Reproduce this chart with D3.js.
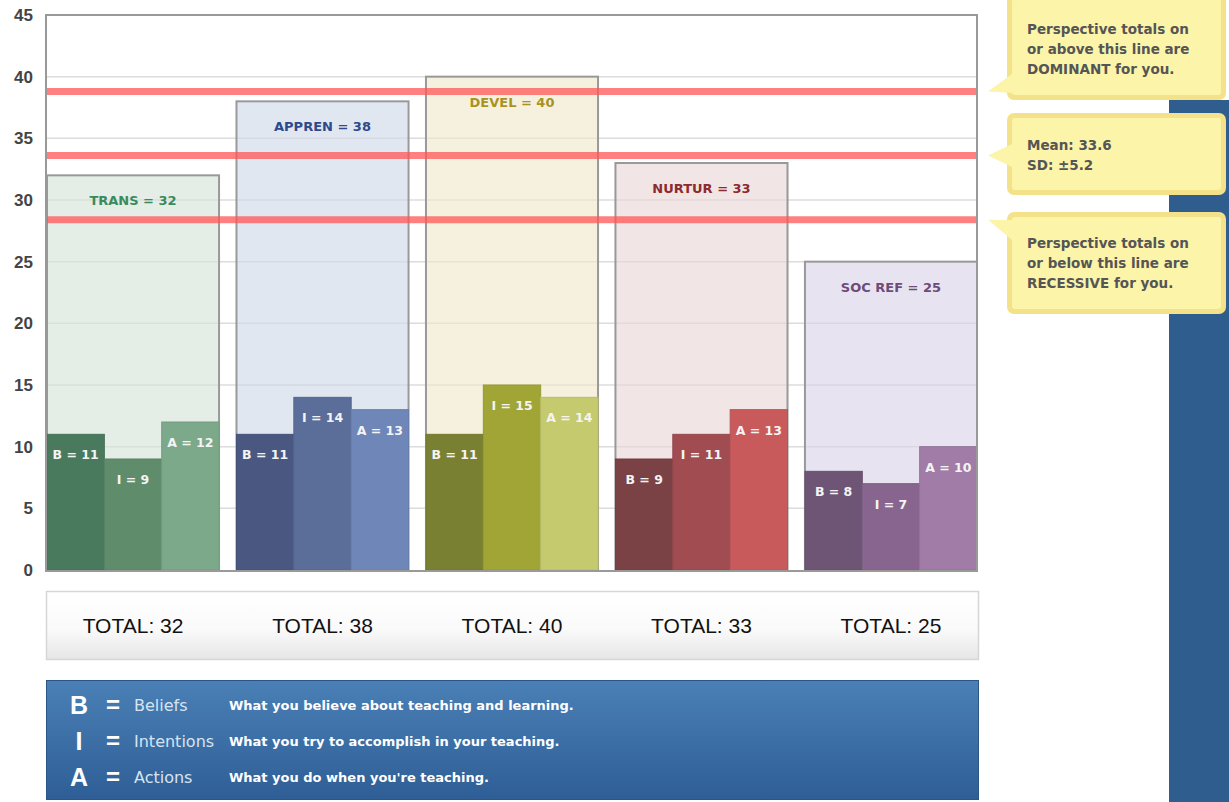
<!DOCTYPE html>
<html>
<head>
<meta charset="utf-8">
<script src="https://cdn.jsdelivr.net/npm/d3@7"></script>
<style>
  body { margin: 0; background: #fff; }
  svg { display: block; }
</style>
</head>
<body>
<div id="chart"></div>
<script>
// ── data ──────────────────────────────────────────────────────────────────
const perspectives = ['TRANS', 'APPREN', 'DEVEL', 'NURTUR', 'SOC REF'];
const beliefs = [11, 11, 11, 9, 8];
const intentions = [9, 14, 15, 11, 7];
const actions = [12, 13, 14, 13, 10];
const totals = [32, 38, 40, 33, 25];
const parts = ['B', 'I', 'A'];
const yTicks = [0, 5, 10, 15, 20, 25, 30, 35, 40, 45];
const mean = 33.6;
const sd = 5.2;

const legendKeys = ['B', 'I', 'A'];
const legendNames = ['Beliefs', 'Intentions', 'Actions'];
const legendDescs = [
  'What you believe about teaching and learning.',
  'What you try to accomplish in your teaching.',
  "What you do when you're teaching."
];
const calloutLines = [
  ['Perspective totals on', 'or above this line are', 'DOMINANT for you.'],
  ['Mean: 33.6', 'SD: \u00b15.2'],
  ['Perspective totals on', 'or below this line are', 'RECESSIVE for you.']
];

// colours per perspective
const bgColors = ['#e0eae3', '#dce3ee', '#f5eed8', '#efe0e1', '#e3deed'];
const labelColors = ['#3b8a5c', '#2e4a8c', '#a89222', '#8c2a2e', '#6e4c78'];
const partColors = [
  ['#4a7a5e', '#5f8c6b', '#7ba98a'],
  ['#4a5881', '#5b6e9a', '#6f87b8'],
  ['#7a8031', '#a0a536', '#c6ca6f'],
  ['#7b4246', '#a04c51', '#c85a5b'],
  ['#6f5575', '#87658e', '#a07ca6']
];

const W = 1229, H = 802;
const svg = d3.select('#chart').append('svg').attr('width', W).attr('height', H);
const FONT = 'Liberation Sans, Arial, sans-serif';
const BOLD = 'DejaVu Sans, Verdana, sans-serif';

const plotL = 46, plotR = 977, plotT = 15, plotB = 571;
const y = d3.scaleLinear().domain([0, 45]).range([570, 15]);
const x = d3.scaleBand().domain(perspectives).range([47, 977]).paddingInner(0.092).paddingOuter(0);
const xs = d3.scaleBand().domain(parts).range([0, x.bandwidth()]).padding(0);

// ── right side strip + callouts ───────────────────────────────────────────
svg.append('rect').attr('x', 1169).attr('y', 100).attr('width', 60).attr('height', H - 100).attr('fill', '#2f5d8e');

const calloutBoxes = [
  { y0: -6, y1: 100, tipY: mean + sd, base: [74, 93], textY: 34 },
  { y0: 113, y1: 195, tipY: mean, base: [144, 167], textY: 150 },
  { y0: 212, y1: 314, tipY: mean - sd, base: [220, 240], textY: 248 }
];
calloutBoxes.forEach((b, i) => {
  const g = svg.append('g');
  g.append('rect')
    .attr('x', 1007).attr('y', b.y0).attr('width', 219).attr('height', b.y1 - b.y0)
    .attr('rx', 7).attr('fill', '#f4e28a');
  g.append('rect')
    .attr('x', 1012).attr('y', b.y0 + 5).attr('width', 209).attr('height', b.y1 - b.y0 - 10)
    .attr('rx', 3).attr('fill', '#fbf4a9');
  g.append('path')
    .attr('d', `M1012,${b.base[0]} L988,${y(b.tipY)} L1012,${b.base[1]} Z`)
    .attr('fill', '#fbf4a9');
  calloutLines[i].forEach((t, j) => {
    g.append('text')
      .attr('x', 1027).attr('y', b.textY + j * 20)
      .attr('font-family', BOLD).attr('font-size', '13.5px').attr('font-weight', 'bold')
      .attr('fill', '#555').text(t);
  });
});

// ── grid + y axis ─────────────────────────────────────────────────────────
svg.append('rect').attr('x', plotL).attr('y', plotT).attr('width', plotR - plotL).attr('height', plotB - plotT).attr('fill', '#fff');

yTicks.forEach((t) => {
  if (t > 0 && t < 45) {
    svg.append('line')
      .attr('x1', plotL).attr('x2', plotR).attr('y1', y(t)).attr('y2', y(t))
      .attr('stroke', '#dcdcdc').attr('stroke-width', 1.5);
  }
  svg.append('text')
    .attr('x', 33).attr('y', y(t) + 6)
    .attr('text-anchor', 'end')
    .attr('font-family', FONT).attr('font-size', '17px').attr('font-weight', 'bold')
    .attr('fill', '#444').text(t);
});

// ── perspective groups ────────────────────────────────────────────────────
perspectives.forEach((p, i) => {
  const gx = x(p);
  const vals = [beliefs[i], intentions[i], actions[i]];
  const g = svg.append('g').attr('transform', `translate(${gx},0)`);

  g.append('rect')
    .attr('x', 0).attr('y', y(totals[i]))
    .attr('width', x.bandwidth()).attr('height', y(0) - y(totals[i]))
    .attr('fill', bgColors[i]).attr('fill-opacity', 0.85)
    .attr('stroke', '#999').attr('stroke-width', 2);

  // faint grid visible through the panel
  yTicks.filter((t) => t > 0 && t < totals[i]).forEach((t) => {
    g.append('line')
      .attr('x1', 1).attr('x2', x.bandwidth() - 1).attr('y1', y(t)).attr('y2', y(t))
      .attr('stroke', '#000').attr('stroke-opacity', 0.03).attr('stroke-width', 1.5);
  });

  g.append('text')
    .attr('x', x.bandwidth() / 2).attr('y', y(totals[i]) + 30)
    .attr('text-anchor', 'middle')
    .attr('font-family', BOLD).attr('font-size', '13px').attr('font-weight', 'bold')
    .attr('fill', labelColors[i]).text(`${p} = ${totals[i]}`);

  parts.forEach((k, j) => {
    g.append('rect')
      .attr('x', xs(k)).attr('y', y(vals[j]))
      .attr('width', xs.bandwidth()).attr('height', y(0) - y(vals[j]))
      .attr('fill', partColors[i][j])
      .attr('stroke', d3.color(partColors[i][j]).darker(0.2)).attr('stroke-width', 1);
    g.append('text')
      .attr('x', xs(k) + xs.bandwidth() / 2).attr('y', y(vals[j]) + 25)
      .attr('text-anchor', 'middle')
      .attr('font-family', BOLD).attr('font-size', '12.5px').attr('font-weight', 'bold')
      .attr('fill', '#f4f4f4').text(`${k} = ${vals[j]}`);
  });
});

// ── mean / SD lines ───────────────────────────────────────────────────────
[mean + sd, mean, mean - sd].forEach((v) => {
  svg.append('line')
    .attr('x1', plotL).attr('x2', plotR).attr('y1', y(v)).attr('y2', y(v))
    .attr('stroke', '#ff5555').attr('stroke-opacity', 0.75).attr('stroke-width', 7);
});

// plot frame
svg.append('rect').attr('x', plotL).attr('y', plotT).attr('width', plotR - plotL).attr('height', plotB - plotT)
  .attr('fill', 'none').attr('stroke', '#999').attr('stroke-width', 2);

// ── totals strip ──────────────────────────────────────────────────────────
const defs = svg.append('defs');
const tg = defs.append('linearGradient').attr('id', 'totGrad').attr('x1', 0).attr('x2', 0).attr('y1', 0).attr('y2', 1);
tg.append('stop').attr('offset', '0%').attr('stop-color', '#ffffff');
tg.append('stop').attr('offset', '55%').attr('stop-color', '#fafafa');
tg.append('stop').attr('offset', '100%').attr('stop-color', '#e6e6e6');
const lg = defs.append('linearGradient').attr('id', 'legGrad').attr('x1', 0).attr('x2', 0).attr('y1', 0).attr('y2', 1);
lg.append('stop').attr('offset', '0%').attr('stop-color', '#4a80b6');
lg.append('stop').attr('offset', '100%').attr('stop-color', '#2e5e95');

svg.append('rect').attr('x', 46.5).attr('y', 591.5).attr('width', 932).attr('height', 68)
  .attr('fill', 'url(#totGrad)').attr('stroke', '#d6d6d6').attr('stroke-width', 1.5);

perspectives.forEach((p, i) => {
  svg.append('text')
    .attr('x', x(p) + x.bandwidth() / 2).attr('y', 633)
    .attr('text-anchor', 'middle')
    .attr('font-family', FONT).attr('font-size', '21px')
    .attr('fill', '#111').text(`TOTAL: ${totals[i]}`);
});

// ── legend ────────────────────────────────────────────────────────────────
svg.append('rect').attr('x', 46.5).attr('y', 680.5).attr('width', 932).attr('height', 119)
  .attr('fill', 'url(#legGrad)').attr('stroke', '#2a5585').attr('stroke-width', 1);

legendKeys.forEach((k, i) => {
  const cy = 705 + i * 36;
  svg.append('text')
    .attr('x', 79).attr('y', cy + 9).attr('text-anchor', 'middle')
    .attr('font-family', FONT).attr('font-size', '25px').attr('font-weight', 'bold')
    .attr('fill', '#fff').text(k);
  svg.append('text')
    .attr('x', 113).attr('y', cy + 8).attr('text-anchor', 'middle')
    .attr('font-family', FONT).attr('font-size', '24px').attr('font-weight', 'bold')
    .attr('fill', '#fff').text('=');
  svg.append('text')
    .attr('x', 134).attr('y', cy + 6)
    .attr('font-family', BOLD).attr('font-size', '16px')
    .attr('fill', '#d6e4f2').text(legendNames[i]);
  svg.append('text')
    .attr('x', 229).attr('y', cy + 5)
    .attr('font-family', BOLD).attr('font-size', '13px').attr('font-weight', 'bold')
    .attr('fill', '#fff').text(legendDescs[i]);
});
</script>
</body>
</html>
